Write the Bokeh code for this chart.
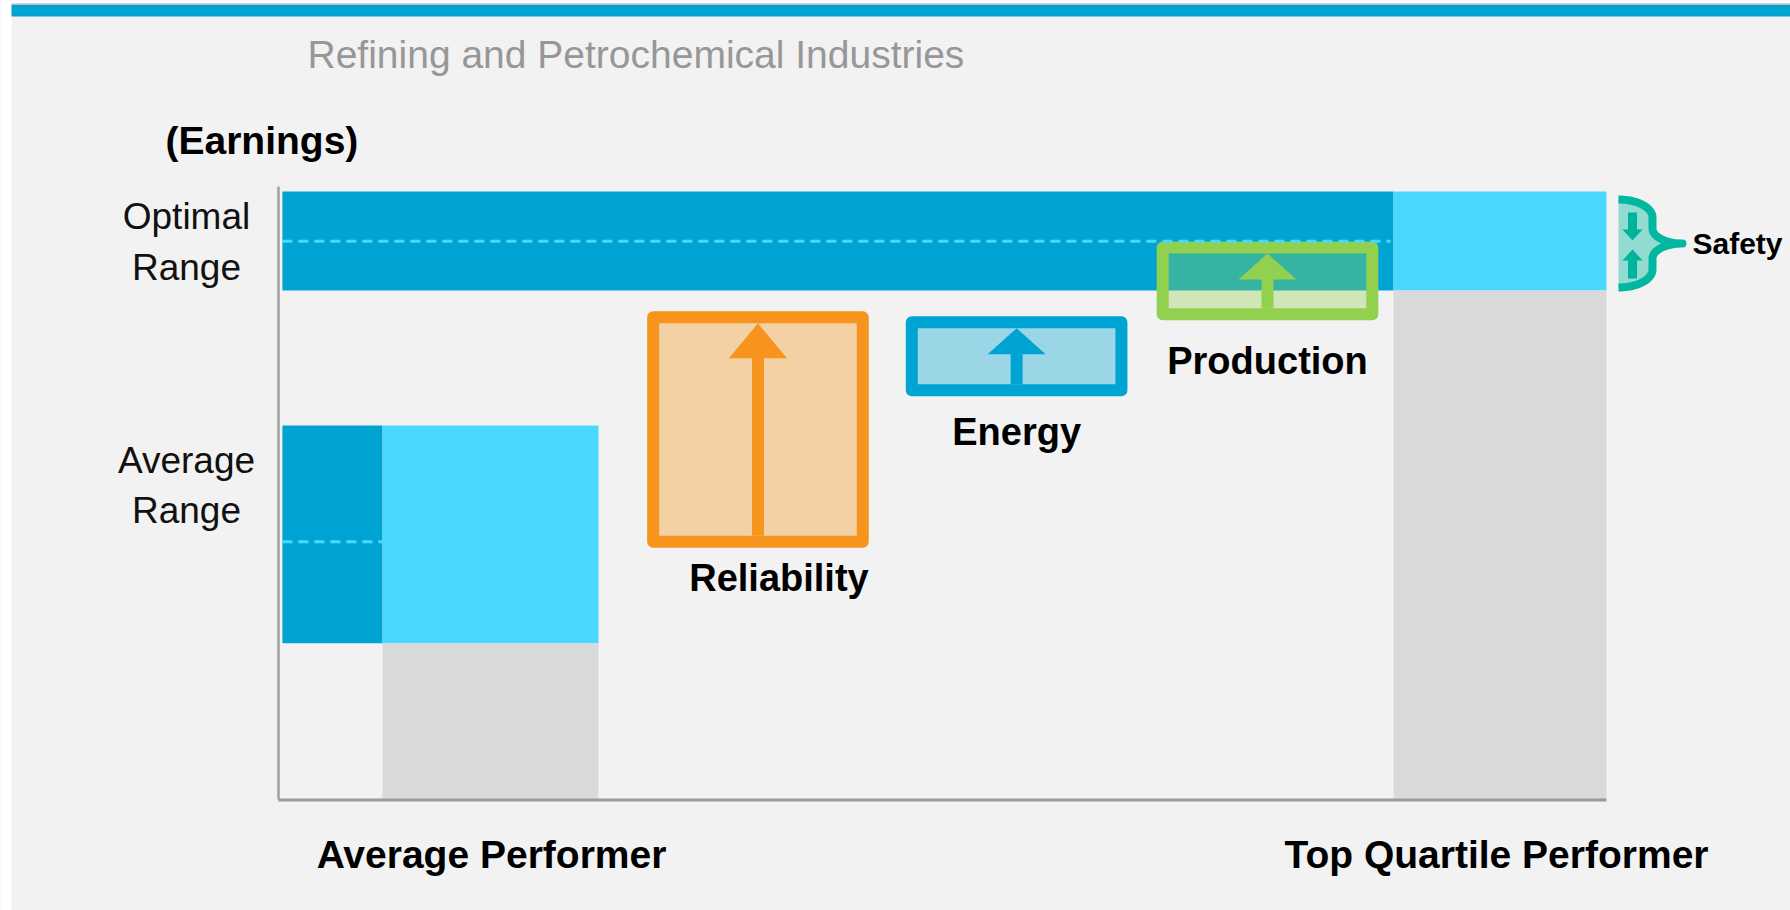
import numpy as np
from bokeh.plotting import figure
from bokeh.models import Range1d
from bokeh.core.properties import value
from bokeh.embed import file_html
from bokeh.resources import INLINE

# ---------------- data (chart units: x = position, y = earnings) ----------------
title_text = "Refining and Petrochemical Industries"
y_title = "(Earnings)"
performers = ["Average Performer", "Top Quartile Performer"]
range_names = [["Optimal", "Range"], ["Average", "Range"]]

optimal_range = [83.7, 100.0]
optimal_mid = 91.8
average_range = [25.7, 61.5]
average_mid = 42.4

band_start = 0.35
average_col = [9.33, 28.7]
top_col = [100.0, 119.1]

levers = ["Reliability", "Energy", "Production"]
lever_x0 = [33.6, 56.8, 79.3]
lever_x1 = [52.4, 75.6, 98.1]
lever_low = [42.4, 67.3, 79.8]
lever_high = [79.3, 78.5, 90.8]
safety_label = "Safety"

# ---------------- layout / style ----------------
BG = "#f2f2f2"
DARK = "#00a4d3"
CYAN = "#4ad8ff"
GRAY = "#d9d9d9"
lever_colors = ["#f7941d", "#00a4d3", "#92d050"]
TEAL = "#00b8a0"
FONT = value("Liberation Sans")

PX_X, PX_Y = 11.15, 6.08          # pixels per unit
ORIGIN_X, ORIGIN_Y = 278, 799      # page pixel of chart origin
FIG_X, FIG_Y, W, H = 0, 0, 1790, 910
TS = 13                            # text baseline correction (px)


def ux(px):
    return (px - ORIGIN_X) / PX_X


def uy(py):
    return (ORIGIN_Y - py) / PX_Y


def dx(n):
    return n / PX_X


def dy(n):
    return n / PX_Y


p = figure(width=W, height=H,
           x_range=Range1d(ux(FIG_X), ux(FIG_X + W)),
           y_range=Range1d(uy(FIG_Y + H), uy(FIG_Y)),
           x_axis_type=None, y_axis_type=None,
           toolbar_location=None, output_backend="svg",
           min_border=0, background_fill_color=BG, border_fill_color=BG,
           outline_line_color=None)
p.grid.visible = False

# page frame: white margin at left/top, thin grey rule, blue stripe
p.quad(left=[ux(0)], right=[ux(11)], bottom=[uy(H)], top=[uy(0)], fill_color="#ffffff", line_color=None)
p.quad(left=[ux(11)], right=[ux(W)], bottom=[uy(3)], top=[uy(0)], fill_color="#ffffff", line_color=None)
p.quad(left=[ux(11)], right=[ux(W)], bottom=[uy(4.5)], top=[uy(3)], fill_color="#bcbcbc", line_color=None)
p.quad(left=[ux(11)], right=[ux(W)], bottom=[uy(16)], top=[uy(4.5)], fill_color=DARK, line_color=None)

# optimal band + top performer column
p.quad(left=[band_start], right=[top_col[0]], bottom=[optimal_range[0]], top=[optimal_range[1]],
       fill_color=DARK, line_color=None)
p.quad(left=[top_col[0]], right=[top_col[1]], bottom=[optimal_range[0]], top=[optimal_range[1]],
       fill_color=CYAN, line_color=None)
p.quad(left=[top_col[0]], right=[top_col[1]], bottom=[0], top=[optimal_range[0]],
       fill_color=GRAY, line_color=None)

# average range + average performer column
p.quad(left=[band_start], right=[average_col[0]], bottom=[average_range[0]], top=[average_range[1]],
       fill_color=DARK, line_color=None)
p.quad(left=[average_col[0]], right=[average_col[1]], bottom=[average_range[0]], top=[average_range[1]],
       fill_color=CYAN, line_color=None)
p.quad(left=[average_col[0]], right=[average_col[1]], bottom=[0], top=[average_range[0]],
       fill_color=GRAY, line_color=None)

# lever boxes
p.quad(left=lever_x0, right=lever_x1, bottom=lever_low, top=lever_high,
       fill_color=lever_colors, fill_alpha=0.36, line_color=lever_colors,
       line_width=12, line_join="round")

# dashed mid lines
p.segment(x0=[band_start, band_start], x1=[top_col[0] - dx(3), average_col[0]],
          y0=[optimal_mid, average_mid], y1=[optimal_mid, average_mid],
          line_color=CYAN, line_width=3, line_dash="10 6")

# lever arrows
head_h = [35, 26, 26]
head_half = 29
for i in range(3):
    cx = (lever_x0[i] + lever_x1[i]) / 2
    ib = lever_low[i] + dy(6)
    it = lever_high[i] - dy(6)
    base = it - dy(head_h[i])
    p.segment(x0=[cx], x1=[cx], y0=[ib], y1=[base + dy(1)],
              line_color=lever_colors[i], line_width=12)
    p.patch(x=[cx - dx(head_half), cx + dx(head_half), cx], y=[base, base, it],
            fill_color=lever_colors[i], line_color=None)

# safety brace
t = np.linspace(0, np.pi / 2, 24)
xl, xv, xt = 1618, 1652, 1682
yt, ym = 199, 243
arc1_x = xl + (xv - xl) * np.sin(t)
arc1_y = (yt + 18) - 18 * np.cos(t)
arc2_x = xt - (xt - xv) * np.cos(t)
arc2_y = (ym - 15) + 15 * np.sin(t)
top_x = np.concatenate([arc1_x, arc2_x])
top_y = np.concatenate([arc1_y, arc2_y])
bot_x = top_x[::-1]
bot_y = (2 * ym - top_y)[::-1]
bx = np.concatenate([top_x, bot_x])
by = np.concatenate([top_y, bot_y])
p.patch(x=ux(bx), y=uy(by), fill_color=TEAL, fill_alpha=0.4, line_color=None)
p.line(x=ux(bx), y=uy(by), line_color=TEAL, line_width=8, line_join="round")

# safety arrows
acx = 1632
SA = "#00b39c"
p.segment(x0=[ux(acx), ux(acx)], x1=[ux(acx), ux(acx)],
          y0=[uy(212), uy(278)], y1=[uy(230), uy(259)],
          line_color=SA, line_width=9)
p.patches(xs=[[ux(acx - 10), ux(acx + 10), ux(acx)], [ux(acx - 10), ux(acx + 10), ux(acx)]],
          ys=[[uy(229), uy(229), uy(240)], [uy(260), uy(260), uy(249)]],
          fill_color=SA, line_color=None)

# axis lines
p.segment(x0=[0], x1=[0], y0=[uy(186)], y1=[0], line_color="#a0a0a0", line_width=2.5)
p.segment(x0=[0], x1=[top_col[1]], y0=[uy(799.5)], y1=[uy(799.5)], line_color="#9a9a9a", line_width=3)

# ---------------- texts ----------------
p.text(x=[ux(307)], y=[uy(67 - TS)], text=[title_text], text_font=FONT, text_font_size="39px",
       text_color="#979797", text_align="left", text_baseline="alphabetic")
p.text(x=[ux(165)], y=[uy(153 - TS)], text=[y_title], text_font=FONT, text_font_size="39px",
       text_font_style="bold", text_color="#000000", text_align="left", text_baseline="alphabetic")

range_baselines = [[229, 280], [473, 523]]
for names, bls in zip(range_names, range_baselines):
    p.text(x=[ux(186)] * 2, y=[uy(b - TS) for b in bls], text=names, text_font=FONT,
           text_font_size="37px", text_color="#111111", text_align="center",
           text_baseline="alphabetic")

p.text(x=[ux(491), ux(1496)], y=[uy(867 - TS)] * 2, text=performers, text_font=FONT,
       text_font_size="39px", text_font_style="bold", text_color="#000000",
       text_align="center", text_baseline="alphabetic")

label_dx = [21, 0, 0]
label_dy = [43, 49, 54]
lx = [(lever_x0[i] + lever_x1[i]) / 2 + dx(label_dx[i]) for i in range(3)]
ly = [lever_low[i] - dy(6) - dy(label_dy[i] - TS) for i in range(3)]
p.text(x=lx, y=ly, text=levers, text_font=FONT, text_font_size="38px",
       text_font_style="bold", text_color="#000000", text_align="center",
       text_baseline="alphabetic")

p.text(x=[ux(1692)], y=[uy(254 - 11)], text=[safety_label], text_font=FONT, text_font_size="30px",
       text_font_style="bold", text_color="#000000", text_align="left", text_baseline="alphabetic")

open("out.html", "w").write(file_html(p, INLINE))
